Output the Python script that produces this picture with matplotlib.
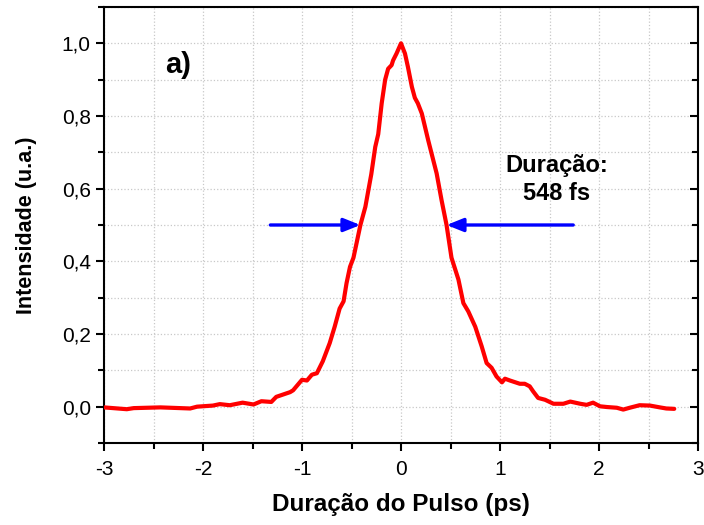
import matplotlib.pyplot as plt
import numpy as np
from matplotlib.ticker import MultipleLocator, FuncFormatter

plt.rcParams['font.family'] = ['Liberation Sans', 'DejaVu Sans']

# pulse autocorrelation trace
tempo = [-3.0, -2.77, -2.7, -2.43, -2.13, -2.06, -1.90, -1.83, -1.73, -1.60,
         -1.49, -1.41, -1.31, -1.26, -1.12, -1.09, -1.0, -0.95, -0.90, -0.85,
         -0.79, -0.72, -0.67, -0.62, -0.58, -0.55, -0.515, -0.48, -0.41, -0.36,
         -0.30, -0.26, -0.23, -0.195, -0.16, -0.13, -0.095, -0.08, -0.045, 0.0,
         0.04, 0.07, 0.11, 0.14, 0.17, 0.21, 0.275, 0.36, 0.41, 0.46,
         0.51, 0.58, 0.63, 0.68, 0.75, 0.815, 0.865, 0.915, 0.965, 1.02,
         1.05, 1.10, 1.20, 1.25, 1.30, 1.335, 1.385, 1.455, 1.54, 1.64,
         1.71, 1.81, 1.875, 1.94, 2.01, 2.08, 2.18, 2.245, 2.31, 2.41,
         2.515, 2.615, 2.68, 2.76]
intensidade = [-0.002, -0.007, -0.004, -0.002, -0.005, 0.0, 0.003, 0.007, 0.004, 0.011,
               0.006, 0.015, 0.013, 0.027, 0.04, 0.045, 0.074, 0.072, 0.088, 0.092,
               0.125, 0.175, 0.22, 0.27, 0.29, 0.34, 0.385, 0.41, 0.5, 0.55,
               0.64, 0.715, 0.75, 0.835, 0.90, 0.93, 0.94, 0.953, 0.972, 1.0,
               0.972, 0.935, 0.88, 0.85, 0.835, 0.807, 0.733, 0.642, 0.568, 0.5,
               0.41, 0.35, 0.285, 0.262, 0.22, 0.166, 0.12, 0.107, 0.083, 0.067,
               0.077, 0.072, 0.063, 0.063, 0.056, 0.042, 0.024, 0.019, 0.008, 0.008,
               0.014, 0.008, 0.005, 0.011, 0.001, -0.001, -0.003, -0.008, -0.003, 0.004,
               0.003, -0.002, -0.005, -0.006]

# FWHM arrows: (start, tip) at half maximum
seta_esq = (-1.32, -0.41)
seta_dir = (1.74, 0.46)
meia_altura = 0.5

fig = plt.figure(figsize=(7.04, 5.25), dpi=100)
ax = fig.add_axes([104/704, 1 - 443/525, (698-104)/704, (443-7)/525])

ax.plot(tempo, intensidade, color='#ff0000', lw=3.0, zorder=3,
        solid_joinstyle='round', solid_capstyle='round')

for x0, x1 in (seta_esq, seta_dir):
    ax.annotate('', xy=(x1, meia_altura), xytext=(x0, meia_altura),
                arrowprops=dict(arrowstyle='-|>,head_length=1.0,head_width=0.4',
                                color='#0000ff', lw=2.4, shrinkA=0, shrinkB=0),
                zorder=4)

ax.text(-2.25, 0.94, 'a)', fontsize=21, fontweight='bold', ha='center', va='center')
ax.text(1.57, 0.625, 'Duração:\n548 fs', fontsize=17, fontweight='bold',
        ha='center', va='center', linespacing=1.25)

ax.set_xlim(-3, 3)
ax.set_ylim(-0.1, 1.1)
ax.xaxis.set_major_locator(MultipleLocator(1))
ax.xaxis.set_minor_locator(MultipleLocator(0.5))
ax.yaxis.set_major_locator(MultipleLocator(0.2))
ax.yaxis.set_minor_locator(MultipleLocator(0.1))
ax.xaxis.set_major_formatter(FuncFormatter(lambda v, p: '%d' % round(v) if round(v) >= 0 else '-%d' % abs(round(v))))
ax.yaxis.set_major_formatter(FuncFormatter(lambda v, p: ('%.1f' % v).replace('.', ',')))

ax.grid(True, which='both', linestyle=':', color='#c8c8c8', lw=0.9)
ax.set_axisbelow(True)

for s in ax.spines.values():
    s.set_linewidth(1.5)
ax.tick_params(which='both', direction='out', width=1.5, labelsize=15)
ax.tick_params(which='major', length=6)
ax.tick_params(which='minor', length=4)
ax.tick_params(axis='x', pad=6)
ax.tick_params(which='both', right=True, top=False)
# right side ticks point inward
for t in ax.yaxis.get_major_ticks() + ax.yaxis.get_minor_ticks():
    t.tick2line.set_marker(0)

ax.set_xlabel('Duração do Pulso (ps)', fontsize=17.5, fontweight='bold', labelpad=10)
ax.set_ylabel('Intensidade (u.a.)', fontsize=15.5, fontweight='bold', labelpad=18)

fig.savefig('out.png', dpi=100)
